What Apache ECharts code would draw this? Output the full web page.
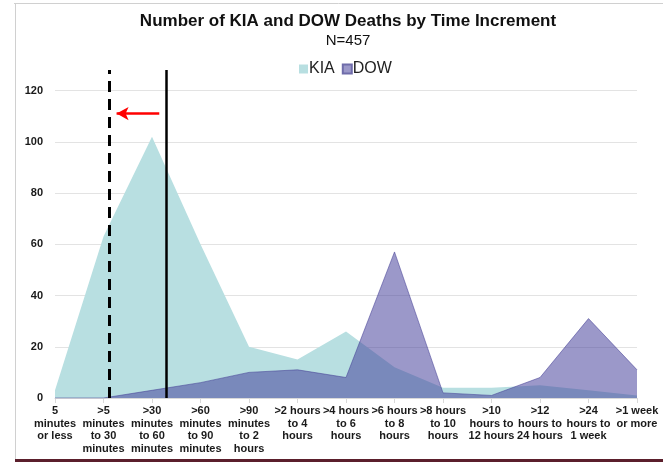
<!DOCTYPE html>
<html>
<head>
<meta charset="utf-8">
<script src="https://cdn.jsdelivr.net/npm/echarts@6/dist/echarts.min.js"></script>
<style>
html,body{margin:0;padding:0;background:#fff;}
#chart{width:663px;height:464px;}
</style>
</head>
<body>
<div id="chart"></div>
<script>
const categories = [
  "5\nminutes\nor less",
  ">5\nminutes\nto 30\nminutes",
  ">30\nminutes\nto 60\nminutes",
  ">60\nminutes\nto 90\nminutes",
  ">90\nminutes\nto 2\nhours",
  ">2 hours\nto 4\nhours",
  ">4 hours\nto 6\nhours",
  ">6 hours\nto 8\nhours",
  ">8 hours\nto 10\nhours",
  ">10\nhours to\n12 hours",
  ">12\nhours to\n24 hours",
  ">24\nhours to\n1 week",
  ">1 week\nor more"
];
const kiaValues = [3, 63, 102, 60, 20, 15, 26, 12, 4, 4, 5, 3, 1];
const dowValues = [0, 0, 3, 6, 10, 11, 8, 57, 2, 1, 8, 31, 11];
const yTicks = [0, 20, 40, 60, 80, 100, 120];

// annotation positions (in category-index units / value units)
const dashedLineAt = 1.11;
const solidLineAt = 2.29;
const arrowFrom = [2.15, 111];
const arrowTo = [1.27, 111];

const toPairs = arr => arr.map((v, i) => [i, v]);

const chart = echarts.init(document.getElementById('chart'), null, {renderer: 'canvas'});
const FONT = '"Liberation Sans", Arial, sans-serif';

chart.setOption({
  animation: false,
  backgroundColor: '#ffffff',
  title: [
    {text: 'Number of KIA and DOW Deaths by Time Increment', left: 343, top: 8, textAlign: 'center',
     textStyle: {fontFamily: FONT, fontSize: 17, fontWeight: 'bold', color: '#111'}},
    {text: 'N=457', left: 343, top: 28, textAlign: 'center',
     textStyle: {fontFamily: FONT, fontSize: 15, fontWeight: 'normal', color: '#111'}}
  ],
  legend: {
    top: 56, left: 294,
    itemWidth: 9, itemHeight: 9, itemGap: 7,
    icon: 'rect',
    textStyle: {fontFamily: FONT, fontSize: 16, color: '#222', padding: [0,0,0,-4]},
    data: ['KIA', 'DOW']
  },
  graphic: [
    {type: 'line', shape: {x1: 14, y1: 3.5, x2: 663, y2: 3.5}, style: {stroke: '#d0d0d0', lineWidth: 1}},
    {type: 'line', shape: {x1: 15.5, y1: 3, x2: 15.5, y2: 459}, style: {stroke: '#d0d0d0', lineWidth: 1}},
    {type: 'line', shape: {x1: 15, y1: 460.5, x2: 663, y2: 460.5}, style: {stroke: '#5b1f2c', lineWidth: 3}}
  ],
  grid: {left: 55, right: 26, top: 70, bottom: 66},
  xAxis: {
    type: 'value', min: 0, max: categories.length - 1, interval: 1,
    axisLine: {show: true, lineStyle: {color: '#d9d9d9'}},
    axisTick: {show: true, length: 5, lineStyle: {color: '#d9d9d9'}},
    splitLine: {show: false},
    axisLabel: {
      margin: 7, interval: 0,
      formatter: v => categories[Math.round(v)] || '',
      fontFamily: FONT, fontSize: 11, fontWeight: 'bold', color: '#1a1a1a', lineHeight: 12.5, align: 'center'
    }
  },
  yAxis: {
    type: 'value', min: 0, max: 128, interval: 20,
    axisLine: {show: false}, axisTick: {show: false},
    splitLine: {show: true, lineStyle: {color: ['#e3e3e3','#e3e3e3','#e3e3e3','#e3e3e3','#e3e3e3','#e3e3e3','#e3e3e3','rgba(0,0,0,0)'], width: 1}},
    axisLabel: {
      margin: 12, showMaxLabel: false,
      formatter: v => (yTicks.indexOf(v) >= 0 ? String(v) : ''),
      fontFamily: FONT, fontSize: 11, fontWeight: 'bold', color: '#1a1a1a'
    }
  },
  series: [
    {
      name: 'KIA', type: 'line', data: toPairs(kiaValues),
      symbol: 'none', itemStyle: {color: '#b8dfe1'},
      lineStyle: {width: 0, color: '#b8dfe1'},
      areaStyle: {color: '#b8dfe1', opacity: 1},
      z: 2,
      markLine: {
        silent: true, animation: false, label: {show: false},
        data: [
          [{coord: [dashedLineAt, 0], symbol: 'none'}, {coord: [dashedLineAt, 128], symbol: 'none',
            lineStyle: {color: '#000', width: 3, type: [11, 7]}}],
          [{coord: [solidLineAt, 0], symbol: 'none'}, {coord: [solidLineAt, 128], symbol: 'none',
            lineStyle: {color: '#000', width: 2.5, type: 'solid'}}],
          [{coord: arrowFrom, symbol: 'none'}, {coord: arrowTo, symbol: 'arrow', symbolSize: [10, 12],
            lineStyle: {color: '#ff0000', width: 2.5, type: 'solid'}}]
        ],
        z: 10
      }
    },
    {
      name: 'DOW', type: 'line', data: toPairs(dowValues),
      symbol: 'none', itemStyle: {color: '#9b98c9', borderColor: '#6f6caa', borderWidth: 1},
      lineStyle: {width: 1, color: 'rgba(70,64,150,0.55)'},
      areaStyle: {color: 'rgba(66,60,153,0.53)', opacity: 1},
      z: 3
    }
  ]
});
</script>
</body>
</html>
